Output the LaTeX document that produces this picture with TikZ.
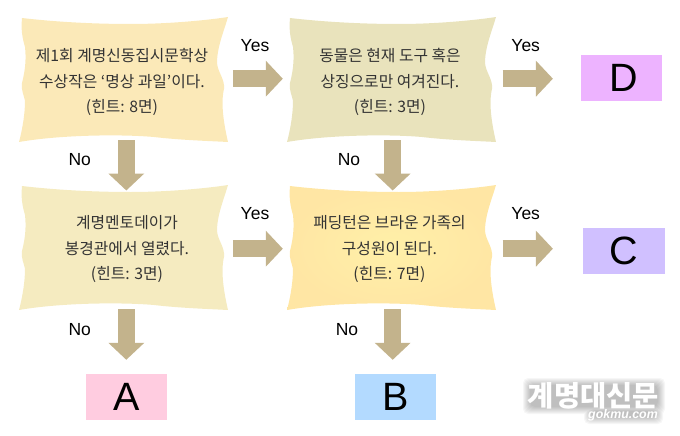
\documentclass[tikz,border=0pt]{standalone}
\usepackage{fontspec}
\setmainfont{Liberation Sans}
\newfontfamily\krfont{Noto Sans CJK KR}
\usetikzlibrary{arrows.meta}
\definecolor{arrowtan}{HTML}{C3B38C}
\definecolor{paperA}{HTML}{FBE9B8}
\definecolor{paperB}{HTML}{E9E3BC}
\definecolor{paperC}{HTML}{F5EBC0}
\definecolor{paperD}{HTML}{FFE6A4}
\definecolor{paperE}{HTML}{FFF0A8}
\definecolor{resA}{HTML}{FFCCE0}
\definecolor{resB}{HTML}{B3DAFF}
\definecolor{resC}{HTML}{D0C0FF}
\definecolor{resD}{HTML}{EDB3FF}
\newcommand{\paperedge}{(3,1) .. controls (20,3) and (60,7) .. (112,7) .. controls (150,7) and (190,3) .. (209,0)
  .. controls (205,14) and (198,30) .. (198,46) .. controls (199,56) and (206,62) .. (205,72) .. controls (203,80) and (202,95) .. (209,125)
  .. controls (190,124) and (160,123) .. (135,120) .. controls (100,117) and (40,118) .. (0,125)
  .. controls (4,110) and (6,95) .. (6,84) .. controls (5,78) and (2,74) .. (3,66) .. controls (7,50) and (7,40) .. (6,30) .. controls (3,20) and (2,12) .. (3,1) -- cycle}
\begin{document}
\begin{tikzpicture}[x=1pt,y=-1pt,line cap=butt,>=Triangle,
    fact/.style={minimum width=209pt,minimum height=125pt,inner sep=0pt,align=center,font=\krfont\fontsize{15.8}{25.5}\selectfont,text=black!80},
    result/.style={minimum width=81.5pt,minimum height=46pt,inner sep=0pt,font=\fontsize{39.5}{40}\selectfont},
    answer/.style={font=\fontsize{17.5}{18}\selectfont,inner sep=0pt},
    flow/.style={line width=17.5pt,draw=arrowtan,-{Triangle[length=17pt,width=35pt,fill=arrowtan]}}]
  \useasboundingbox (0,0) rectangle (680,436);
  % paper shapes
  \fill[fill=paperA,shift={(19,17)}] \paperedge;
  \fill[fill=paperB,shift={(287,17)}] \paperedge;
  \fill[fill=paperC,shift={(19,185)}] \paperedge;
  \shade[inner color=paperE,outer color=paperD,shift={(287,185)}] \paperedge;
  % texts
  \node[fact] (fact1) at (122,82) {제1회 계명신동집시문학상\\수상작은 ‘명상 과일’이다.\\(힌트: 8면)};
  \node[fact] (fact2) at (390,82) {동물은 현재 도구 혹은\\상징으로만 여겨진다.\\(힌트: 3면)};
  \node[fact] (fact3) at (127,249.5) {계명멘토데이가\\봉경관에서 열렸다.\\(힌트: 3면)};
  \node[fact] (fact4) at (389.5,249.5) {패딩턴은 브라운 가족의\\구성원이 된다.\\(힌트: 7면)};
  % results
  \node[result,fill=resA] (resa) at (126.3,397) {A};
  \node[result,fill=resB] (resb) at (395.3,397) {B};
  \node[result,fill=resC] (resc) at (624.2,251) {C};
  \node[result,fill=resD] (resd) at (621.7,77.7) {\hspace*{4pt}D};
  % arrows
  \draw[flow,shorten <=6.2pt,shorten >=2.5pt] ([yshift=3.3pt]fact1.east) -- ([yshift=3.3pt]fact2.west);
  \draw[flow,shorten <=1.2pt,shorten >=2pt] ([yshift=.8pt]fact3.east) -- ([yshift=.8pt]fact4.west);
  \draw[flow,shorten <=7.8pt] ([yshift=3.3pt]fact2.east) -- ([xshift=58.2pt,yshift=3.3pt]fact2.east);
  \draw[flow,shorten <=8.3pt] ([yshift=.8pt]fact4.east) -- ([xshift=58.7pt,yshift=.8pt]fact4.east);
  \draw[flow,shorten <=-4.5pt,shorten >=-3.7pt] (fact1.south -| resa.north) -- (fact3.north -| resa.north);
  \draw[flow,shorten <=-4.5pt,shorten >=-3.7pt] ([xshift=2.7pt]fact2.south) -- ([xshift=2.7pt]fact2.south |- fact4.north);
  \draw[flow,shorten <=-3pt,shorten >=14pt] (fact3.south -| resa.north) -- (resa.north);
  \draw[flow,shorten <=-3pt,shorten >=14pt] ([xshift=-2.6pt]fact4.south -| resb.north) -- ([xshift=-2.6pt]resb.north);
  % yes and no
  \node[answer] (yes1) at (255,45.7) {Yes};
  \node[answer] (yes2) at (525.7,45.7) {Yes};
  \node[answer] (yes3) at (255,214) {Yes};
  \node[answer] (yes4) at (525.7,214) {Yes};
  \node[answer] (no1) at (79.7,160) {No};
  \node[answer] (no2) at (349,160) {No};
  \node[answer] (no3) at (79.7,330) {No};
  \node[answer] (no4) at (347,330) {No};
  % logo
  \foreach \k in {6,5,4,3,2,1,0,-1}
    \fill[black,opacity=.035,rounded corners=5pt] (529-\k,384-\k) rectangle (659+\k,408+\k) (590-\k,410-\k) rectangle (657+\k,418+\k);
  \node[text=white,font=\krfont\bfseries\fontsize{28.5}{28.5}\selectfont,inner sep=0pt] (logo) at (593.5,395.5) {계명대신문};
  \node[text=white,font=\bfseries\itshape\fontsize{12.4}{12.4}\selectfont,inner sep=0pt] (site) at (623,415.5) {gokmu.com};
\end{tikzpicture}
\end{document}
